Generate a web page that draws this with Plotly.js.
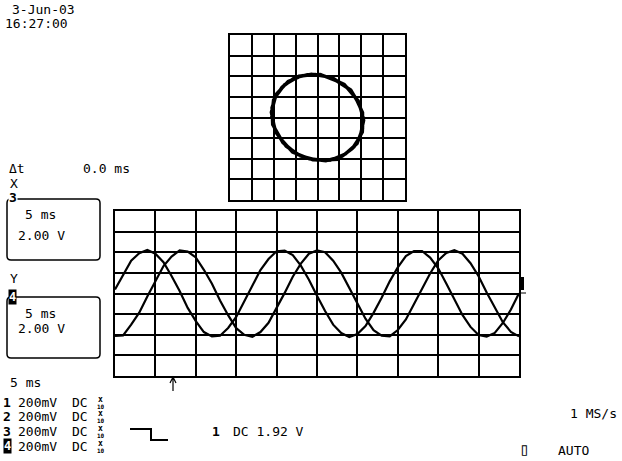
<!DOCTYPE html>
<html>
<head>
<meta charset="utf-8">
<script src="https://cdn.plot.ly/plotly-3.0.1.min.js"></script>
<style>html,body{margin:0;padding:0;background:#fff;}#plot{width:622px;height:461px;}</style>
</head>
<body>
<div id="plot"></div>
<script>
// time axis: ms (5 ms/div, 10 div)
var timeMs = [0,1,2,3,4,5,6,7,8,9,10,11,12,13,14,15,16,17,18,19,20,21,22,23,24,25,26,27,28,29,30,31,32,33,34,35,36,37,38,39,40,41,42,43,44,45,46,47,48,49,50];
// channel 3 (X) volts, 2.00 V/div
var ch3Volts = [0.40,1.86,3.18,3.90,4.22,3.86,3.04,1.70,0.24,-1.40,-2.68,-3.74,-4.16,-4.10,-3.34,-2.28,-0.74,0.76,2.28,3.34,4.10,4.16,3.72,2.70,1.34,-0.22,-1.70,-3.02,-3.84,-4.22,-3.92,-3.16,-1.88,-0.42,1.18,2.54,3.62,4.12,4.12,3.48,2.44,0.96,-0.56,-2.08,-3.24,-4.02,-4.18,-3.82,-2.86,-1.56,0.02];
// channel 4 (Y) volts
var ch4Volts = [-4.12,-4.06,-3.02,-1.86,-0.28,1.20,2.66,3.58,4.18,4.06,3.50,2.30,0.94,-0.68,-2.10,-3.36,-4.00,-4.20,-3.74,-2.84,-1.42,0.06,1.62,2.90,3.86,4.18,4.00,3.18,2.02,0.50,-1.06,-2.44,-3.56,-4.10,-4.16,-3.54,-2.52,-1.08,0.48,1.94,3.20,3.94,4.20,3.86,2.94,1.68,0.10,-1.40,-2.78,-3.72,-4.16];
var chanNums = ['1','2','3','4'];
var chanScale = ['200mV','200mV','200mV','200mV'];
var chanCoupling = ['DC','DC','DC','DC'];

var W = 622, H = 461;
function px(x){return x/W;}
function py(y){return 1 - y/H;}
var MONO = 'DejaVu Sans Mono, monospace';

function ann(text, x, y, o){
  o = o || {};
  return {text:text, xref:'paper', yref:'paper', x:px(x), y:py(y), xanchor:o.xa||'left', yanchor:'middle',
    showarrow:false, font:{family:MONO, size:o.size||13, color:o.color||'#000', weight:o.weight||'normal'},
    bgcolor:o.bg||'rgba(0,0,0,0)', borderpad:o.bp||0};
}
function P(x,y){return px(x)+','+py(y);}
function rr(x0,y0,x1,y1,r){
  return 'M'+P(x0+r,y0)+' L'+P(x1-r,y0)+' Q'+P(x1,y0)+' '+P(x1,y0+r)+' L'+P(x1,y1-r)+' Q'+P(x1,y1)+' '+P(x1-r,y1)+
    ' L'+P(x0+r,y1)+' Q'+P(x0,y1)+' '+P(x0,y1-r)+' L'+P(x0,y0+r)+' Q'+P(x0,y0)+' '+P(x0+r,y0)+' Z';
}

var traces = [
  {x:timeMs, y:ch3Volts, xaxis:'x', yaxis:'y', mode:'lines', line:{color:'#000', width:2.2}, hoverinfo:'skip'},
  {x:timeMs, y:ch4Volts, xaxis:'x', yaxis:'y', mode:'lines', line:{color:'#000', width:2.2}, hoverinfo:'skip'},
  {x:ch3Volts, y:ch4Volts, xaxis:'x2', yaxis:'y2', mode:'lines', line:{color:'#000', width:3.4}, hoverinfo:'skip'}
];

function gridAxis(domain, range, dtick, anchor){
  return {domain:domain, range:range, dtick:dtick, tick0:0, anchor:anchor, showgrid:true, gridcolor:'#000', gridwidth:2,
    zeroline:false, showline:true, linecolor:'#000', linewidth:2, mirror:true, ticks:'', showticklabels:false, fixedrange:true};
}

var annotations = [
  ann('3-Jun-03', 11, 10),
  ann('16:27:00', 4, 24),
  ann('\u0394t', 8, 169),
  ann('0.0 ms', 82, 169),
  ann('X', 9, 183),
  ann('3', 8, 198, {weight:'bold', size:13, bg:'#fff'}),
  ann('5 ms', 24, 215),
  ann('2.00 V', 17, 235),
  ann('Y', 9, 278),
  ann('4', 8, 297, {weight:'bold', size:12, color:'#fff', bg:'#000'}),
  ann('5 ms', 24, 313),
  ann('2.00 V', 17, 328),
  ann('5 ms', 9, 382),
  ann('1', 211, 431, {weight:'bold', size:13}),
  ann('DC 1.92 V', 232, 431),
  ann('1 MS/s', 569, 413),
  ann('\u25AF', 518, 449, {size:17, weight:'bold'}),
  ann('AUTO', 557, 450)
];
var rowsY = [402, 416, 431, 446];
for (var i = 0; i < chanNums.length; i++){
  var y = rowsY[i];
  if (i === 3) annotations.push(ann(chanNums[i], 3, y, {weight:'bold', size:12, color:'#fff', bg:'#000'}));
  else annotations.push(ann(chanNums[i], 2, y, {weight:'bold', size:13}));
  annotations.push(ann(chanScale[i], 17, y));
  annotations.push(ann(chanCoupling[i], 71, y));
  annotations.push(ann('x', 97, y-3, {size:8, weight:'bold'}));
  annotations.push(ann('10', 96, y+4, {size:6, weight:'bold'}));
}

var shapes = [
  {type:'path', xref:'paper', yref:'paper', path:rr(7,199,100,260,4), line:{color:'#000', width:1.5}},
  {type:'path', xref:'paper', yref:'paper', path:rr(7,297,100,358,4), line:{color:'#000', width:1.5}},
  {type:'path', xref:'paper', yref:'paper', path:'M'+P(130,429)+' L'+P(151,429)+' L'+P(151,440)+' L'+P(168,440), line:{color:'#000', width:2}},
  {type:'path', xref:'paper', yref:'paper', path:'M'+P(173,391)+' L'+P(173,378)+' M'+P(170,383)+' L'+P(173,377)+' L'+P(176,383), line:{color:'#000', width:1.2}},
  {type:'rect', xref:'paper', yref:'paper', x0:px(520), x1:px(524), y0:py(290), y1:py(277), fillcolor:'#000', line:{width:0}},
  {type:'line', xref:'paper', yref:'paper', x0:px(519), x1:px(526), y0:py(293), y1:py(293), line:{color:'#000', width:1}}
];

var layout = {
  width:W, height:H, margin:{l:0,r:0,t:0,b:0,pad:0}, paper_bgcolor:'#fff', plot_bgcolor:'#fff', showlegend:false,
  xaxis: gridAxis([115/W, 519/W], [0,50], 5, 'y'),
  yaxis: gridAxis([1-376/H, 1-211/H], [-8,8], 2, 'x'),
  xaxis2: gridAxis([230/W, 405/W], [-8,8], 2, 'y2'),
  yaxis2: gridAxis([1-200/H, 1-35/H], [-8,8], 2, 'x2'),
  annotations: annotations,
  shapes: shapes
};
Plotly.newPlot('plot', traces, layout, {staticPlot:true, displayModeBar:false});
</script>
</body>
</html>
